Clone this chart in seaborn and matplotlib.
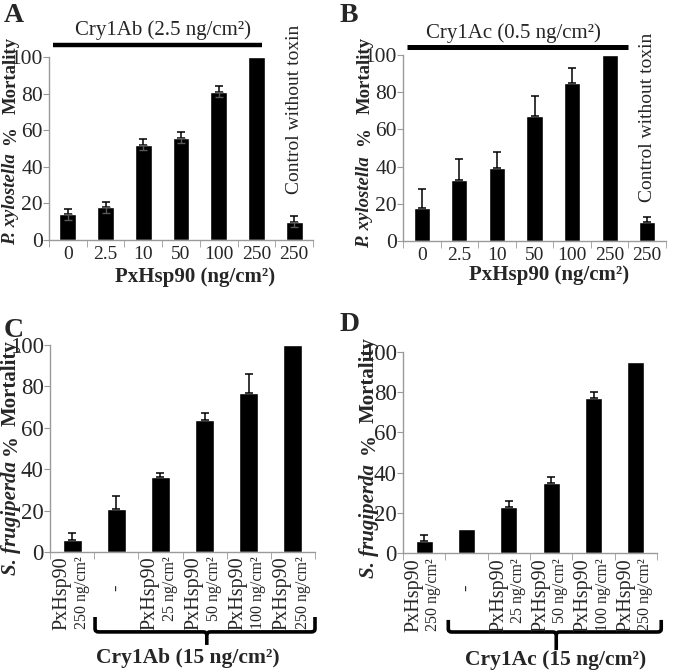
import numpy as np
import pandas as pd
import matplotlib
matplotlib.use("Agg")
import matplotlib.pyplot as plt
import seaborn as sns
from matplotlib.path import Path
from matplotlib.patches import PathPatch
import matplotlib.transforms as mtransforms

# ---------------- data ----------------
a_groups = ["0", "2.5", "10", "50", "100", "250", "250 ctrl"]
a_ticklabels = ["0", "2.5", "10", "50", "100", "250", "250"]
a_mortality = [14, 18, 52, 56, 81, 100, 10]
a_err = [3, 3, 3, 3, 3, 0, 3]

b_groups = ["0", "2.5", "10", "50", "100", "250", "250 ctrl"]
b_ticklabels = ["0", "2.5", "10", "50", "100", "250", "250"]
b_mortality = [18, 33, 39, 67, 85, 100, 10]
b_err = [10, 11, 9, 11, 8, 0, 3]

cd_groups = ["hsp250 only", "toxin only", "hsp25", "hsp50", "hsp100", "hsp250"]
cd_line1 = ["PxHsp90", "-", "PxHsp90", "PxHsp90", "PxHsp90", "PxHsp90"]
cd_line2 = ["250 ng/cm²", "", "25 ng/cm²", "50 ng/cm²", "100 ng/cm²", "250 ng/cm²"]

c_mortality = [6, 21, 36, 64, 77, 100]
c_err = [3, 6, 2, 3, 9, 0]

d_mortality = [6, 12, 23, 35, 77, 95]
d_err = [3, 0, 3, 3, 3, 0]

yticks = [0, 20, 40, 60, 80, 100]

# ---------------- style ----------------
sns.set_style("ticks")
plt.rcParams["font.family"] = ["Liberation Serif", "DejaVu Serif"]

W, H = 675, 671
fig = plt.figure(figsize=(W / 100, H / 100), dpi=100)
renderer = fig.canvas.get_renderer()

AXCOL = "#9a9a9a"


def fx(px):
    return px / W


def fy(py):
    return 1 - py / H


def make_axes(left, right, y0, y100):
    return fig.add_axes([fx(left), fy(y0), (right - left) / W, (y0 - y100) / H])


def style_axes(ax, n, ysize):
    ax.set_ylim(0, 100)
    ax.set_xlim(-0.5, n - 0.5)
    for s in ["top", "right"]:
        ax.spines[s].set_visible(False)
    for s in ["left", "bottom"]:
        ax.spines[s].set_color(AXCOL)
        ax.spines[s].set_linewidth(1.0)
    ax.set_yticks(yticks)
    ax.set_yticklabels([str(v) for v in yticks], fontsize=ysize)
    ax.tick_params(axis="y", length=4, color=AXCOL, pad=0.5)
    ax.set_xticks(range(n))
    ax.set_xticks(np.arange(-0.5, n, 1.0), minor=True)
    ax.tick_params(axis="x", which="major", length=0, pad=4)
    ax.tick_params(axis="x", which="minor", length=5, color=AXCOL)
    ax.set_xlabel("")
    ax.set_ylabel("")


def draw_bars(ax, groups, vals, errs, width, gray_low=False):
    df = pd.DataFrame({"group": groups, "mortality": vals})
    sns.barplot(data=df, x="group", y="mortality", order=groups, color="black",
                saturation=1, width=width, errorbar=None, ax=ax)
    x = np.arange(len(groups))
    e = np.array(errs, dtype=float)
    v = np.array(vals, dtype=float)
    m = e > 0
    ax.errorbar(x[m], v[m], yerr=[np.zeros(m.sum()), e[m]], fmt="none",
                ecolor="black", elinewidth=1.1, capsize=3.2, capthick=1.1,
                clip_on=False, zorder=5)
    if gray_low:
        ax.errorbar(x[m], v[m], yerr=[e[m], np.zeros(m.sum())], fmt="none",
                    ecolor="#5a5a5a", elinewidth=1.0, capsize=3.2, capthick=1.0,
                    zorder=5)


def ylabel_parts(xc, bottom, italic_txt, size, gap1, gap2):
    # stack rotated pieces from the bottom upwards (pixel coords from top)
    t1 = fig.text(fx(xc), fy(bottom), italic_txt, rotation=90, ha="center",
                  va="bottom", fontsize=size, fontweight="bold", fontstyle="italic")
    h1 = t1.get_window_extent(renderer).height
    y = bottom - h1 - gap1
    t2 = fig.text(fx(xc), fy(y), "%", rotation=90, ha="center", va="bottom",
                  fontsize=size, fontweight="bold")
    h2 = t2.get_window_extent(renderer).height
    y = y - h2 - gap2
    fig.text(fx(xc), fy(y), "Mortality", rotation=90, ha="center", va="bottom",
             fontsize=size, fontweight="bold")


def brace(ax, x0, x1, xc, ytop, ybar, ytip):
    tr = mtransforms.blended_transform_factory(ax.transData, ax.transAxes)
    r = 0.08
    rb = 0.015
    verts = [(x0, ytop), (x0, ybar + rb), (x0, ybar), (x0 + r, ybar),
             (xc - r, ybar), (xc, ybar), (xc, ybar - rb), (xc, ytip)]
    codes = [Path.MOVETO, Path.LINETO, Path.CURVE3, Path.CURVE3,
             Path.LINETO, Path.CURVE3, Path.CURVE3, Path.LINETO]
    verts2 = [(x1, ytop), (x1, ybar + rb), (x1, ybar), (x1 - r, ybar),
              (xc + r, ybar), (xc, ybar), (xc, ybar - rb)]
    codes2 = [Path.MOVETO, Path.LINETO, Path.CURVE3, Path.CURVE3,
              Path.LINETO, Path.CURVE3, Path.CURVE3]
    for vv, cc in [(verts, codes), (verts2, codes2)]:
        p = PathPatch(Path(vv, cc), fill=False, lw=2.6, edgecolor="black",
                      transform=tr, clip_on=False, capstyle="butt")
        ax.add_patch(p)


# ---------------- Panel A ----------------
axA = make_axes(49, 313, 240, 57)
draw_bars(axA, a_groups, a_mortality, a_err, 0.45, gray_low=True)
style_axes(axA, 7, 15.5)
axA.set_xticklabels(a_ticklabels, fontsize=14)
axA.plot([-0.39, 5.15], [106.6, 106.6], color="black", lw=3.2, clip_on=False,
         solid_capstyle="butt")
axA.text(2.52, 114.7, "Cry1Ab (2.5 ng/cm²)", ha="center", va="center", fontsize=15)
axA.text(6, 25, "Control without toxin", rotation=90, ha="center", va="bottom",
         fontsize=14)
fig.text(fx(195), fy(277), "PxHsp90 (ng/cm²)", ha="center", va="center",
         fontsize=15, fontweight="bold")
ylabel_parts(11, 245, "P. xylostella", 13.5, 8, 13)
fig.text(fx(4), fy(3), "A", ha="left", va="top", fontsize=20, fontweight="bold")

# ---------------- Panel B ----------------
axB = make_axes(403, 666, 241, 55)
draw_bars(axB, b_groups, b_mortality, b_err, 0.43)
style_axes(axB, 7, 15.5)
axB.set_xticklabels(b_ticklabels, fontsize=14)
axB.plot([-0.39, 5.48], [104.3, 104.3], color="black", lw=3.6, clip_on=False,
         solid_capstyle="butt")
axB.text(2.44, 111.8, "Cry1Ac (0.5 ng/cm²)", ha="center", va="center", fontsize=15)
axB.text(6, 21, "Control without toxin", rotation=90, ha="center", va="bottom",
         fontsize=14)
fig.text(fx(549), fy(275), "PxHsp90 (ng/cm²)", ha="center", va="center",
         fontsize=15, fontweight="bold")
ylabel_parts(365, 248, "P. xylostella", 13.5, 10, 13)
fig.text(fx(340), fy(3), "B", ha="left", va="top", fontsize=20, fontweight="bold")


# ---------------- Panels C & D ----------------
def cd_ticks(ax, y_top, y_dash):
    ax.set_xticklabels([""] * len(cd_groups))
    tr = mtransforms.blended_transform_factory(ax.transData, ax.transAxes)
    for i, (l1, l2) in enumerate(zip(cd_line1, cd_line2)):
        if l2 == "":
            ax.text(i, y_dash, l1, rotation=90, ha="center", va="center",
                    fontsize=14, transform=tr)
        else:
            ax.text(i - 0.24, y_top, l1, rotation=90, ha="center", va="top",
                    fontsize=14.5, transform=tr)
            ax.text(i + 0.22, y_top, l2, rotation=90, ha="center", va="top",
                    fontsize=11.5, transform=tr)


axC = make_axes(50, 315, 552, 345)
draw_bars(axC, cd_groups, c_mortality, c_err, 0.43)
style_axes(axC, 6, 16.5)
cd_ticks(axC, -0.02, -0.17)
brace(axC, 0.52, 5.5, 3.05, -0.314, -0.386, -0.449)
fig.text(fx(188), fy(658), "Cry1Ab (15 ng/cm²)", ha="center", va="center",
         fontsize=15.5, fontweight="bold")
ylabel_parts(11, 575, "S. frugiperda", 15, 6, 8)
fig.text(fx(4), fy(318), "C", ha="left", va="top", fontsize=20, fontweight="bold")

axD = make_axes(403, 657, 553, 352)
draw_bars(axD, cd_groups, d_mortality, d_err, 0.40)
style_axes(axD, 6, 16.5)
cd_ticks(axD, -0.025, -0.174)
brace(axD, 0.57, 5.6, 3.12, -0.333, -0.393, -0.483)
fig.text(fx(556), fy(660), "Cry1Ac (15 ng/cm²)", ha="center", va="center",
         fontsize=15.5, fontweight="bold")
ylabel_parts(369, 578, "S. frugiperda", 15, 10, 10)
fig.text(fx(340), fy(312), "D", ha="left", va="top", fontsize=20, fontweight="bold")

fig.savefig("out.png", dpi=100)
